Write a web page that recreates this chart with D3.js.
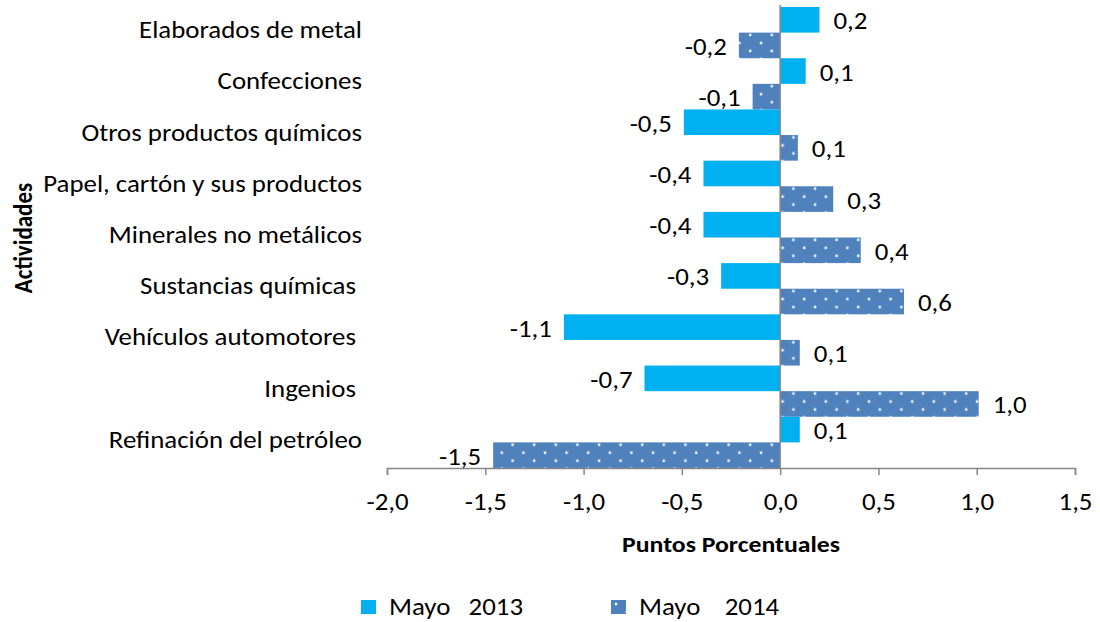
<!DOCTYPE html>
<html>
<head>
<meta charset="utf-8">
<script src="https://cdnjs.cloudflare.com/ajax/libs/d3/7.8.5/d3.min.js"></script>
<style>
    body { margin: 0; background: #fff; }
    #chart text { font-family: Carlito, Lato, "Open Sans", sans-serif; fill: #000; }
    .cat-label { white-space: pre; }
</style>
</head>
<body>
<div id="chart"></div>
<script>
var categories = ["Elaborados de metal", "Confecciones", "Otros productos químicos", "Papel, cartón y sus productos",
    "Minerales no metálicos", "Sustancias químicas\u00a0", "Vehículos automotores\u00a0", "Ingenios\u00a0", "Refinación del petróleo"];
var series = ["Mayo   2013", "Mayo    2014"];
var values2013 = [0.20, 0.13, -0.49, -0.39, -0.39, -0.30, -1.10, -0.69, 0.10];
var values2014 = [-0.21, -0.14, 0.09, 0.27, 0.41, 0.63, 0.10, 1.01, -1.46];
var tickValues = [-2.0, -1.5, -1.0, -0.5, 0.0, 0.5, 1.0, 1.5];

function drawChart() {
    var width = 1100,
        height = 622,
        fontSize = "24px",
        stretchX = 1.12,   // the source picture is a little wider than tall
        plot = { left: 387, right: 1075, top: 7, bottom: 468 };

    // move x/y into a transform so the glyphs can be widened around their anchor
    function stretch(sel) {
        sel.attr("transform", function () {
            var x = +this.getAttribute("x") || 0,
                y = +this.getAttribute("y") || 0;
            this.setAttribute("x", 0);
            this.setAttribute("y", 0);
            return "translate(" + x + "," + y + ") scale(" + stretchX + ",1)"
        })
    }

    var svg = d3.select("#chart").append("svg")
        .attr("width", width)
        .attr("height", height)

    var pattern = svg.append("defs").append("pattern")
        .attr("id", "dots")
        .attr("patternUnits", "userSpaceOnUse")
        .attr("width", 21.6)
        .attr("height", 16)
    pattern.append("rect")
        .attr("width", 21.6)
        .attr("height", 16)
        .attr("fill", "#4f81bd")
    pattern.append("circle").attr("cx", 5).attr("cy", 4).attr("r", 1.4).attr("fill", "#eef3fb")
    pattern.append("circle").attr("cx", 15.8).attr("cy", 12).attr("r", 1.4).attr("fill", "#eef3fb")

    var xScale = d3.scaleLinear()
        .domain([-2, 1.5])
        .range([plot.left, plot.right])

    var yScale = d3.scaleBand()
        .domain(categories)
        .range([plot.top, plot.bottom])
        .padding(0)

    var sub = d3.scaleBand()
        .domain(series)
        .range([0, yScale.bandwidth()])

    var rows = categories.map(function (c, i) {
        return { cat: c, vals: [values2013[i], values2014[i]] }
    })

    var fills = ["#00b0f0", "url(#dots)"]
    var fmt = function (v) { return v.toFixed(1).replace(".", ",") }

    var groups = svg.selectAll("g.row")
        .data(rows)
        .enter().append("g")
        .attr("class", "row")
        .attr("transform", function (d) { return "translate(0," + yScale(d.cat) + ")" })

    groups.selectAll("rect")
        .data(function (d) { return d.vals.map(function (v, j) { return { v: v, s: series[j], j: j } }) })
        .enter().append("rect")
        .attr("x", function (d) { return xScale(Math.min(0, d.v)) })
        .attr("width", function (d) { return Math.abs(xScale(d.v) - xScale(0)) })
        .attr("y", function (d) { return sub(d.s) })
        .attr("height", sub.bandwidth())
        .attr("fill", function (d) { return fills[d.j] })

    groups.selectAll("text.val")
        .data(function (d) { return d.vals.map(function (v, j) { return { v: v, s: series[j] } }) })
        .enter().append("text")
        .attr("class", "val")
        .attr("x", function (d) { return d.v >= 0 ? xScale(d.v) + 14 : xScale(d.v) - 12 })
        .attr("y", function (d) { return sub(d.s) + sub.bandwidth() / 2 + 9.5 })
        .attr("text-anchor", function (d) { return d.v >= 0 ? "start" : "end" })
        .style("font-size", fontSize)
        .text(function (d) { return fmt(d.v) })
        .call(stretch)

    // category labels
    svg.selectAll("text.cat-label")
        .data(categories)
        .enter().append("text")
        .attr("class", "cat-label")
        .attr("x", 362)
        .attr("y", function (d) { return yScale(d) + yScale.bandwidth() / 2 + 5.5 })
        .attr("text-anchor", "end")
        .style("font-size", fontSize)
        .text(function (d) { return d })
        .call(stretch)

    // zero line
    svg.append("line")
        .attr("x1", xScale(0)).attr("x2", xScale(0))
        .attr("y1", plot.top - 2).attr("y2", plot.bottom)
        .attr("stroke", "#868686")
        .attr("stroke-width", 1.5)

    var xAxis = svg.append("g")
        .attr("class", "x-axis")
        .attr("transform", "translate(0," + plot.bottom + ")")
        .call(d3.axisBottom(xScale)
            .tickValues(tickValues)
            .tickSizeOuter(0)
            .tickSize(7)
            .tickFormat(fmt))

    xAxis.select(".domain").attr("stroke", "#868686").attr("stroke-width", 1.5)
    xAxis.selectAll(".tick line").attr("stroke", "#868686").attr("stroke-width", 1.5)
    xAxis.selectAll(".tick text")
        .attr("dy", 0)
        .attr("y", 42)
        .style("font-size", fontSize)
        .call(stretch)

    svg.append("text")
        .attr("x", 731)
        .attr("y", 552)
        .attr("text-anchor", "middle")
        .style("font-size", "23px")
        .style("font-weight", "bold")
        .text("Puntos Porcentuales")
        .call(stretch)

    svg.append("text")
        .attr("transform", "translate(32,238) scale(" + stretchX + ",1) rotate(-90)")
        .attr("text-anchor", "middle")
        .style("font-size", "23px")
        .style("font-weight", "bold")
        .text("Actividades")

    // legend
    var legend = svg.selectAll("g.legend")
        .data(series)
        .enter().append("g")
        .attr("class", "legend")
        .attr("transform", function (d, i) { return "translate(" + (i === 0 ? 361 : 611) + ",600)" })

    legend.append("rect")
        .attr("width", 15)
        .attr("height", 14)
        .attr("fill", function (d, i) { return fills[i] })

    legend.append("text")
        .attr("x", 28)
        .attr("y", 15)
        .style("font-size", fontSize)
        .style("white-space", "pre")
        .text(function (d) { return d })
        .call(stretch)
}

drawChart()
</script>
</body>
</html>
